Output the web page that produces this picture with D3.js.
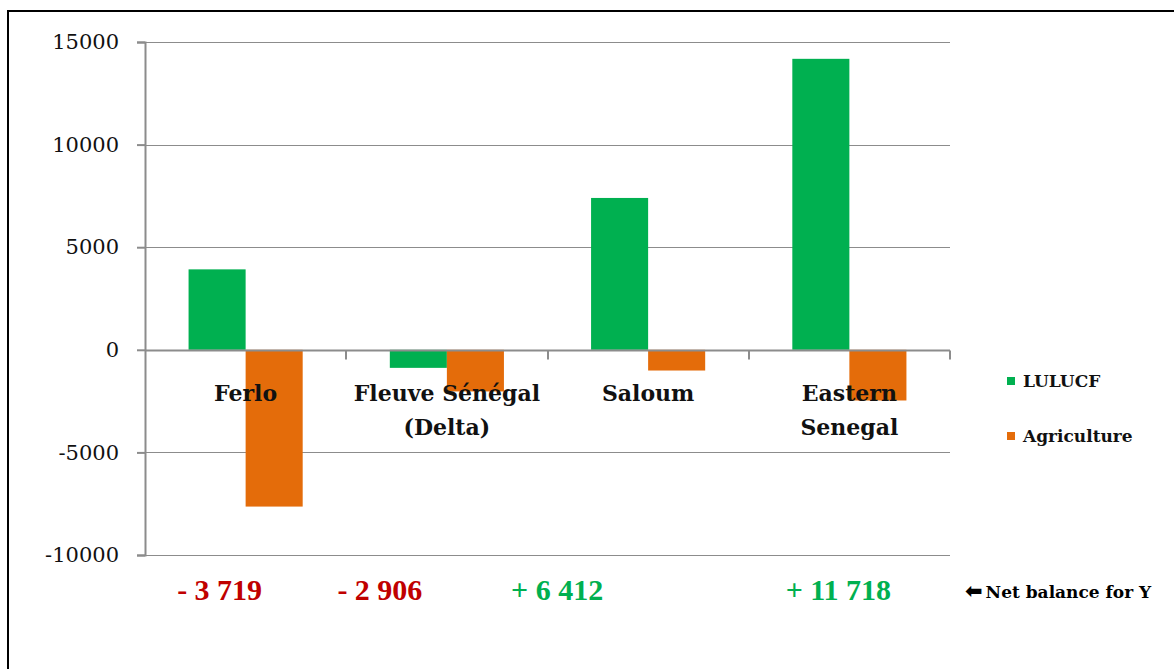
<!DOCTYPE html>
<html>
<head>
<meta charset="utf-8">
<script src="https://cdn.jsdelivr.net/npm/d3@7"></script>
<style>
  html, body { margin: 0; padding: 0; background: #fff; }
  svg { display: block; }
</style>
</head>
<body>
<div id="chart"></div>
<script>
// --- data ---
const categories = ["Ferlo", "Fleuve Sénégal (Delta)", "Saloum", "Eastern Senegal"];
const categoryLines = [["Ferlo"], ["Fleuve Sénégal", "(Delta)"], ["Saloum"], ["Eastern", "Senegal"]];
const seriesNames = ["LULUCF", "Agriculture"];
const lulucf = [3920, -880, 7400, 14180];
const agriculture = [-7640, -2030, -1010, -2470];
const netBalance = [-3719, -2906, 6412, 11718];
const yTicks = [-10000, -5000, 0, 5000, 10000, 15000];

// --- layout ---
const W = 1174, H = 669;
const plot = { left: 145, right: 950, top: 42, bottom: 555 };
const colors = { LULUCF: "#00b050", Agriculture: "#e46c0a" };
const netOffsets = [-26, -67, -91, -11]; // text boxes were placed by hand in the original

const svg = d3.select("#chart").append("svg")
    .attr("width", W)
    .attr("height", H);

// frame
svg.append("rect")
    .attr("x", 8).attr("y", 11)
    .attr("width", W + 20).attr("height", H + 20)
    .attr("fill", "none")
    .attr("stroke", "#000")
    .attr("stroke-width", 2);

const x0 = d3.scaleBand()
    .domain(categories)
    .range([plot.left, plot.right])
    .paddingInner(0.433)
    .paddingOuter(0.2165);

const x1 = d3.scaleBand()
    .domain(seriesNames)
    .range([0, x0.bandwidth()]);

const y = d3.scaleLinear()
    .domain([-10000, 15000])
    .range([plot.bottom, plot.top]);

// gridlines
svg.append("g")
    .selectAll("line")
    .data(yTicks.filter(d => d !== 0))
    .enter().append("line")
    .attr("x1", plot.left).attr("x2", plot.right)
    .attr("y1", d => Math.round(y(d)) + 0.5)
    .attr("y2", d => Math.round(y(d)) + 0.5)
    .attr("stroke", "#8c8c8c")
    .attr("stroke-width", 1);

// y axis
const yAxis = d3.axisLeft(y).tickValues(yTicks).tickSize(8).tickPadding(18)
    .tickFormat(d => String(d));
const yAxisG = svg.append("g")
    .attr("transform", `translate(${plot.left},0)`)
    .call(yAxis);
yAxisG.select(".domain").attr("stroke", "#8c8c8c").attr("stroke-width", 2);
yAxisG.selectAll(".tick line").attr("stroke", "#8c8c8c").attr("stroke-width", 2);
yAxisG.selectAll(".tick text")
    .attr("font-family", "'DejaVu Serif', serif")
    .attr("font-size", 21)
    .attr("fill", "#111");

// bars
const data = categories.map((c, i) => ({ cat: c, values: [
    { key: "LULUCF", value: lulucf[i] },
    { key: "Agriculture", value: agriculture[i] }
] }));

svg.append("g")
    .selectAll("g")
    .data(data)
    .enter().append("g")
    .attr("transform", d => `translate(${x0(d.cat)},0)`)
    .selectAll("rect")
    .data(d => d.values)
    .enter().append("rect")
    .attr("x", d => x1(d.key))
    .attr("width", x1.bandwidth())
    .attr("y", d => y(Math.max(0, d.value)))
    .attr("height", d => Math.abs(y(d.value) - y(0)))
    .attr("fill", d => colors[d.key]);

// zero axis with category ticks
const zeroY = Math.round(y(0)) + 0.5;
svg.append("line")
    .attr("x1", plot.left).attr("x2", plot.right)
    .attr("y1", zeroY).attr("y2", zeroY)
    .attr("stroke", "#8c8c8c").attr("stroke-width", 2);

const step = x0.step();
const boundaries = d3.range(categories.length + 1).map(i => plot.left + i * step);
svg.append("g")
    .selectAll("line")
    .data(boundaries.slice(1))
    .enter().append("line")
    .attr("x1", d => Math.round(d)).attr("x2", d => Math.round(d))
    .attr("y1", zeroY).attr("y2", zeroY + 9)
    .attr("stroke", "#8c8c8c").attr("stroke-width", 2);

// category labels
const catText = svg.append("g")
    .selectAll("text")
    .data(categories)
    .enter().append("text")
    .attr("text-anchor", "middle")
    .attr("font-family", "'DejaVu Serif', serif")
    .attr("font-weight", "bold")
    .attr("font-size", 22)
    .attr("fill", "#111");
catText.selectAll("tspan")
    .data((d, i) => categoryLines[i].map(t => ({ t, c: d })))
    .enter().append("tspan")
    .attr("x", d => x0(d.c) + x0.bandwidth() / 2)
    .attr("y", (d, j) => 401 + j * 34)
    .text(d => d.t);

// legend
const legend = svg.append("g")
    .selectAll("g")
    .data(seriesNames)
    .enter().append("g")
    .attr("transform", (d, i) => `translate(1007,${377 + i * 55})`);
legend.append("rect")
    .attr("width", 8).attr("height", 8)
    .attr("fill", d => colors[d]);
legend.append("text")
    .attr("x", 16).attr("y", 10)
    .attr("font-family", "'DejaVu Serif', serif")
    .attr("font-weight", "bold")
    .attr("font-size", 17)
    .attr("fill", "#111")
    .text(d => d);

// net balance row
const fmt = d3.formatLocale({ decimal: ".", thousands: " ", grouping: [3], currency: ["", ""] }).format(",d");
svg.append("g")
    .selectAll("text")
    .data(netBalance)
    .enter().append("text")
    .attr("x", (d, i) => x0(categories[i]) + x0.bandwidth() / 2 + netOffsets[i])
    .attr("y", 600)
    .attr("text-anchor", "middle")
    .attr("font-family", "'Liberation Serif', 'Times New Roman', serif")
    .attr("font-weight", "bold")
    .attr("font-size", 30)
    .attr("fill", d => d < 0 ? "#c00000" : "#00b050")
    .text(d => (d < 0 ? "- " : "+ ") + fmt(Math.abs(d)));

const note = svg.append("text")
    .attr("x", 965).attr("y", 598)
    .attr("font-family", "'DejaVu Serif', serif")
    .attr("font-weight", "bold")
    .attr("font-size", 17)
    .attr("fill", "#000");
note.append("tspan")
    .attr("font-family", "'DejaVu Sans', sans-serif")
    .attr("font-size", 21)
    .text("\u2B05");
note.append("tspan")
    .attr("dx", 3)
    .text("Net balance for Y");
</script>
</body>
</html>
